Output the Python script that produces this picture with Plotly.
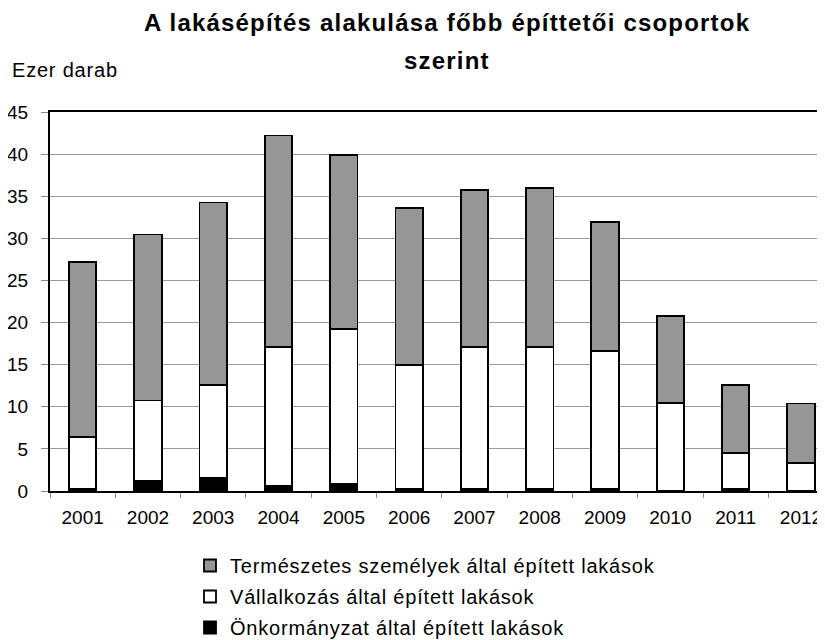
import plotly.graph_objects as go

years = ["2001", "2002", "2003", "2004", "2005", "2006", "2007", "2008", "2009", "2010", "2011", "2012"]
# thousand dwellings
onkormanyzat = [0.3, 1.25, 1.5, 0.55, 0.8, 0.3, 0.3, 0.3, 0.3, 0.05, 0.3, 0.05]
vallalkozas_top = [6.45, 10.75, 12.6, 17.1, 19.25, 15.0, 17.1, 17.1, 16.6, 10.45, 4.5, 3.3]
total = [27.15, 30.45, 34.25, 42.2, 39.85, 33.6, 35.7, 36.0, 31.95, 20.8, 12.55, 10.4]

vallalkozas = [round(t - b, 3) for t, b in zip(vallalkozas_top, onkormanyzat)]
termeszetes = [round(t - v, 3) for t, v in zip(total, vallalkozas_top)]

names = [
    "Önkormányzat által épített lakások",
    "Vállalkozás által épített lakások",
    "Természetes személyek által épített lakások",
]
colors = ["#000000", "#ffffff", "#969696"]
ranks = [3, 2, 1]
series = [onkormanyzat, vallalkozas, termeszetes]

title_line1 = "A lakásépítés alakulása főbb építtetői csoportok"
title_line2 = "szerint"
y_label = "Ezer darab"
y_ticks = [0, 5, 10, 15, 20, 25, 30, 35, 40, 45]

FONT = "Liberation Sans, Arial, sans-serif"

# page has an 8px body margin; figure is laid out in its own pixel coords
OFF = 8
W, H = 825 - OFF, 640 - OFF
PL, PT, PB = 50 - OFF, 112 - OFF, 491 - OFF  # plot left/top/bottom in figure px
PW = W - PL
PH = PB - PT


def px(xp):
    return (xp - OFF - PL) / PW


def py(yp):
    return (PB - (yp - OFF)) / PH


def spaced(s, sp):
    return f'<span style="letter-spacing:{sp}px">{s}</span>'


fig = go.Figure()
for name, vals, col, rk in zip(names, series, colors, ranks):
    fig.add_trace(go.Bar(
        x=years, y=vals, name=spaced(name, 0.8), legendgroup=name, legendrank=rk,
        marker=dict(color=col, line=dict(color="#000000", width=1.8)),
        width=0.42,
    ))

fig.update_layout(
    barmode="stack",
    width=W, height=H,
    margin=dict(l=PL, r=0, t=PT, b=H - PB, autoexpand=False),
    paper_bgcolor="#ffffff", plot_bgcolor="#ffffff",
    font=dict(family=FONT, size=19, color="#000000"),
    showlegend=True,
    legend=dict(
        x=px(190), xanchor="left",
        y=py(546), yanchor="top",
        traceorder="grouped", tracegroupgap=2,
        font=dict(family=FONT, size=20, color="#000000"),
        bgcolor="rgba(0,0,0,0)",
    ),
)

fig.update_xaxes(
    type="category",
    range=[-0.5, 11.368],
    showline=True, linecolor="#000000", linewidth=2, mirror=True,
    ticks="outside", tickson="boundaries", ticklen=5, tickcolor="#888888", tickwidth=1.3,
    showgrid=False,
    tickfont=dict(family=FONT, size=19),
    ticklabelstandoff=8,
)
fig.update_yaxes(
    range=[0, 45],
    tickvals=y_ticks,
    showline=True, linecolor="#000000", linewidth=2,
    ticks="outside", ticklen=7, tickcolor="#888888", tickwidth=1.3,
    showgrid=True, gridcolor="#9a9a9a", gridwidth=1.4,
    zeroline=False,
    tickfont=dict(family=FONT, size=19),
    ticklabelstandoff=9,
)

fig.add_annotation(
    text="<b>" + spaced(title_line1, 1.2) + "</b>", xref="paper", yref="paper",
    x=px(447), y=py(23), xanchor="center", yanchor="middle",
    showarrow=False, font=dict(family=FONT, size=24, color="#000000"),
)
fig.add_annotation(
    text="<b>" + spaced(title_line2, 1.2) + "</b>", xref="paper", yref="paper",
    x=px(447), y=py(60), xanchor="center", yanchor="middle",
    showarrow=False, font=dict(family=FONT, size=24, color="#000000"),
)
fig.add_annotation(
    text=spaced(y_label, 0.8), xref="paper", yref="paper",
    x=px(10), y=py(70), xanchor="left", yanchor="middle",
    showarrow=False, font=dict(family=FONT, size=20, color="#000000"),
)

fig.write_html("out.html")
